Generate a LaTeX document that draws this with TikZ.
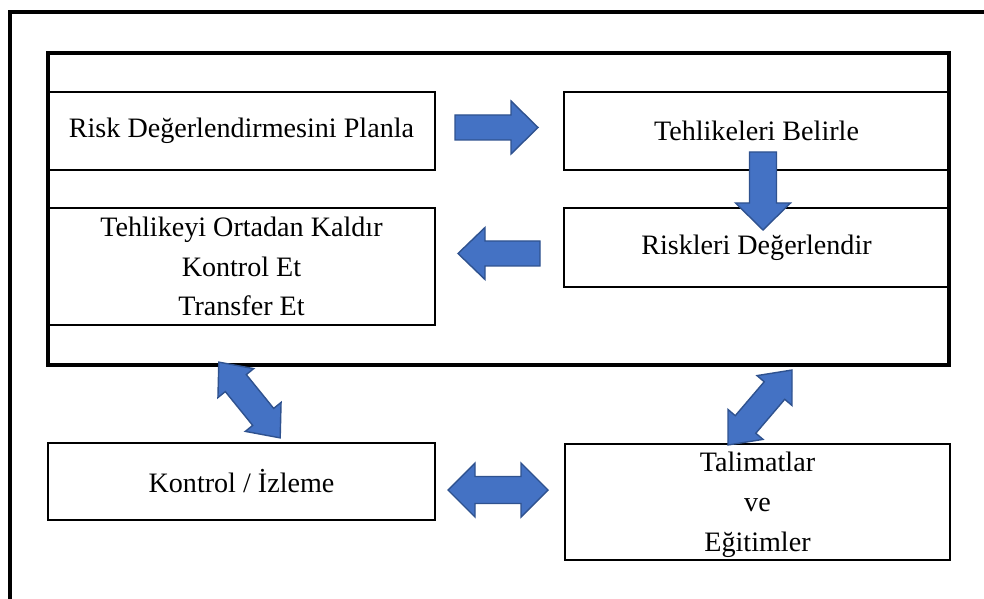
\documentclass[tikz,border=0pt]{standalone}
\usepackage{fontspec}
\setmainfont{Liberation Serif}
\usepackage{tikz}
\definecolor{arrowblue}{HTML}{4472C4}
\definecolor{arrowedge}{HTML}{2F528F}
\tikzset{
	stepbox/.style={draw, line width=2.1pt, inner sep=0pt, align=center,
		font=\fontsize{24}{34}\selectfont},
	blockarrow/.style={fill=arrowblue, draw=arrowedge, line width=1.2pt},
	% length, head half width, shaft half width
	pics/onearrow/.style n args={3}{code={
		\draw[blockarrow] ({-#1/2},-#3) -- ({#1/2-27},-#3) -- ({#1/2-27},-#2)
		-- ({#1/2},0) -- ({#1/2-27},#2) -- ({#1/2-27},#3) -- ({-#1/2},#3) -- cycle;}},
	pics/twoarrow/.style n args={3}{code={
		\draw[blockarrow] ({-#1/2},0) -- ({-#1/2+27},-#2) -- ({-#1/2+27},-#3)
		-- ({#1/2-27},-#3) -- ({#1/2-27},-#2) -- ({#1/2},0) -- ({#1/2-27},#2)
		-- ({#1/2-27},#3) -- ({-#1/2+27},#3) -- ({-#1/2+27},#2) -- cycle;}},
}

\begin{document}
\begin{tikzpicture}[x=0.03cm, y=-0.03cm]
		\useasboundingbox (0,0) rectangle (984,599);
		\coordinate (F) at (10,12);%frame corner
		\coordinate (P) at (48,53);%panel top left
		\coordinate (Q) at (949,365);%panel bottom right
		\draw [line width=3.4pt] (984,12) -- (F) -- (10,599);
		
		\node (plan) [stepbox, minimum width=11.61cm, minimum height=2.34cm] at (241.5,131) {Risk Değerlendirmesini Planla};
		\node (belirle) [stepbox, minimum width=11.55cm, minimum height=2.34cm] at (756.5,131) {Tehlikeleri Belirle};
		\node (kaldir) [stepbox, minimum width=11.61cm, minimum height=3.51cm] at (241.5,266.5) {Tehlikeyi Ortadan Kaldır\\Kontrol Et\\Transfer Et};
		\node (degerlendir) [stepbox, minimum width=11.55cm, minimum height=2.37cm] at (756.5,247.5) {Riskleri Değerlendir};
		\draw [line width=3.4pt] (P) rectangle (Q);
		\node (izleme) [stepbox, minimum width=11.61cm, minimum height=2.31cm] at (241.5,481.5) {Kontrol / İzleme};
		\node (egitim) [stepbox, minimum width=11.55cm, minimum height=3.48cm, text depth=-0.1cm] at (757.5,502) {Talimatlar\\ve\\Eğitimler};
		
		\pic at (496.5,127.5) {onearrow={83}{26.5}{12.5}};% plan -> belirle
		\pic [rotate=-90] at (763,191) {onearrow={78}{27.5}{13.5}};% belirle -> degerlendir
		\pic [rotate=180] at (499,253.5) {onearrow={82}{26}{12.5}};% degerlendir -> kaldir
		\pic [rotate=-51] at (249.5,400) {twoarrow={97.5}{23}{13.5}};
		\pic [rotate=49.5] at (760,407.5) {twoarrow={98.6}{23}{13.5}};
		\pic at (498,490) {twoarrow={100}{27}{13.5}};% izleme <-> egitim
\end{tikzpicture}
\end{document}
